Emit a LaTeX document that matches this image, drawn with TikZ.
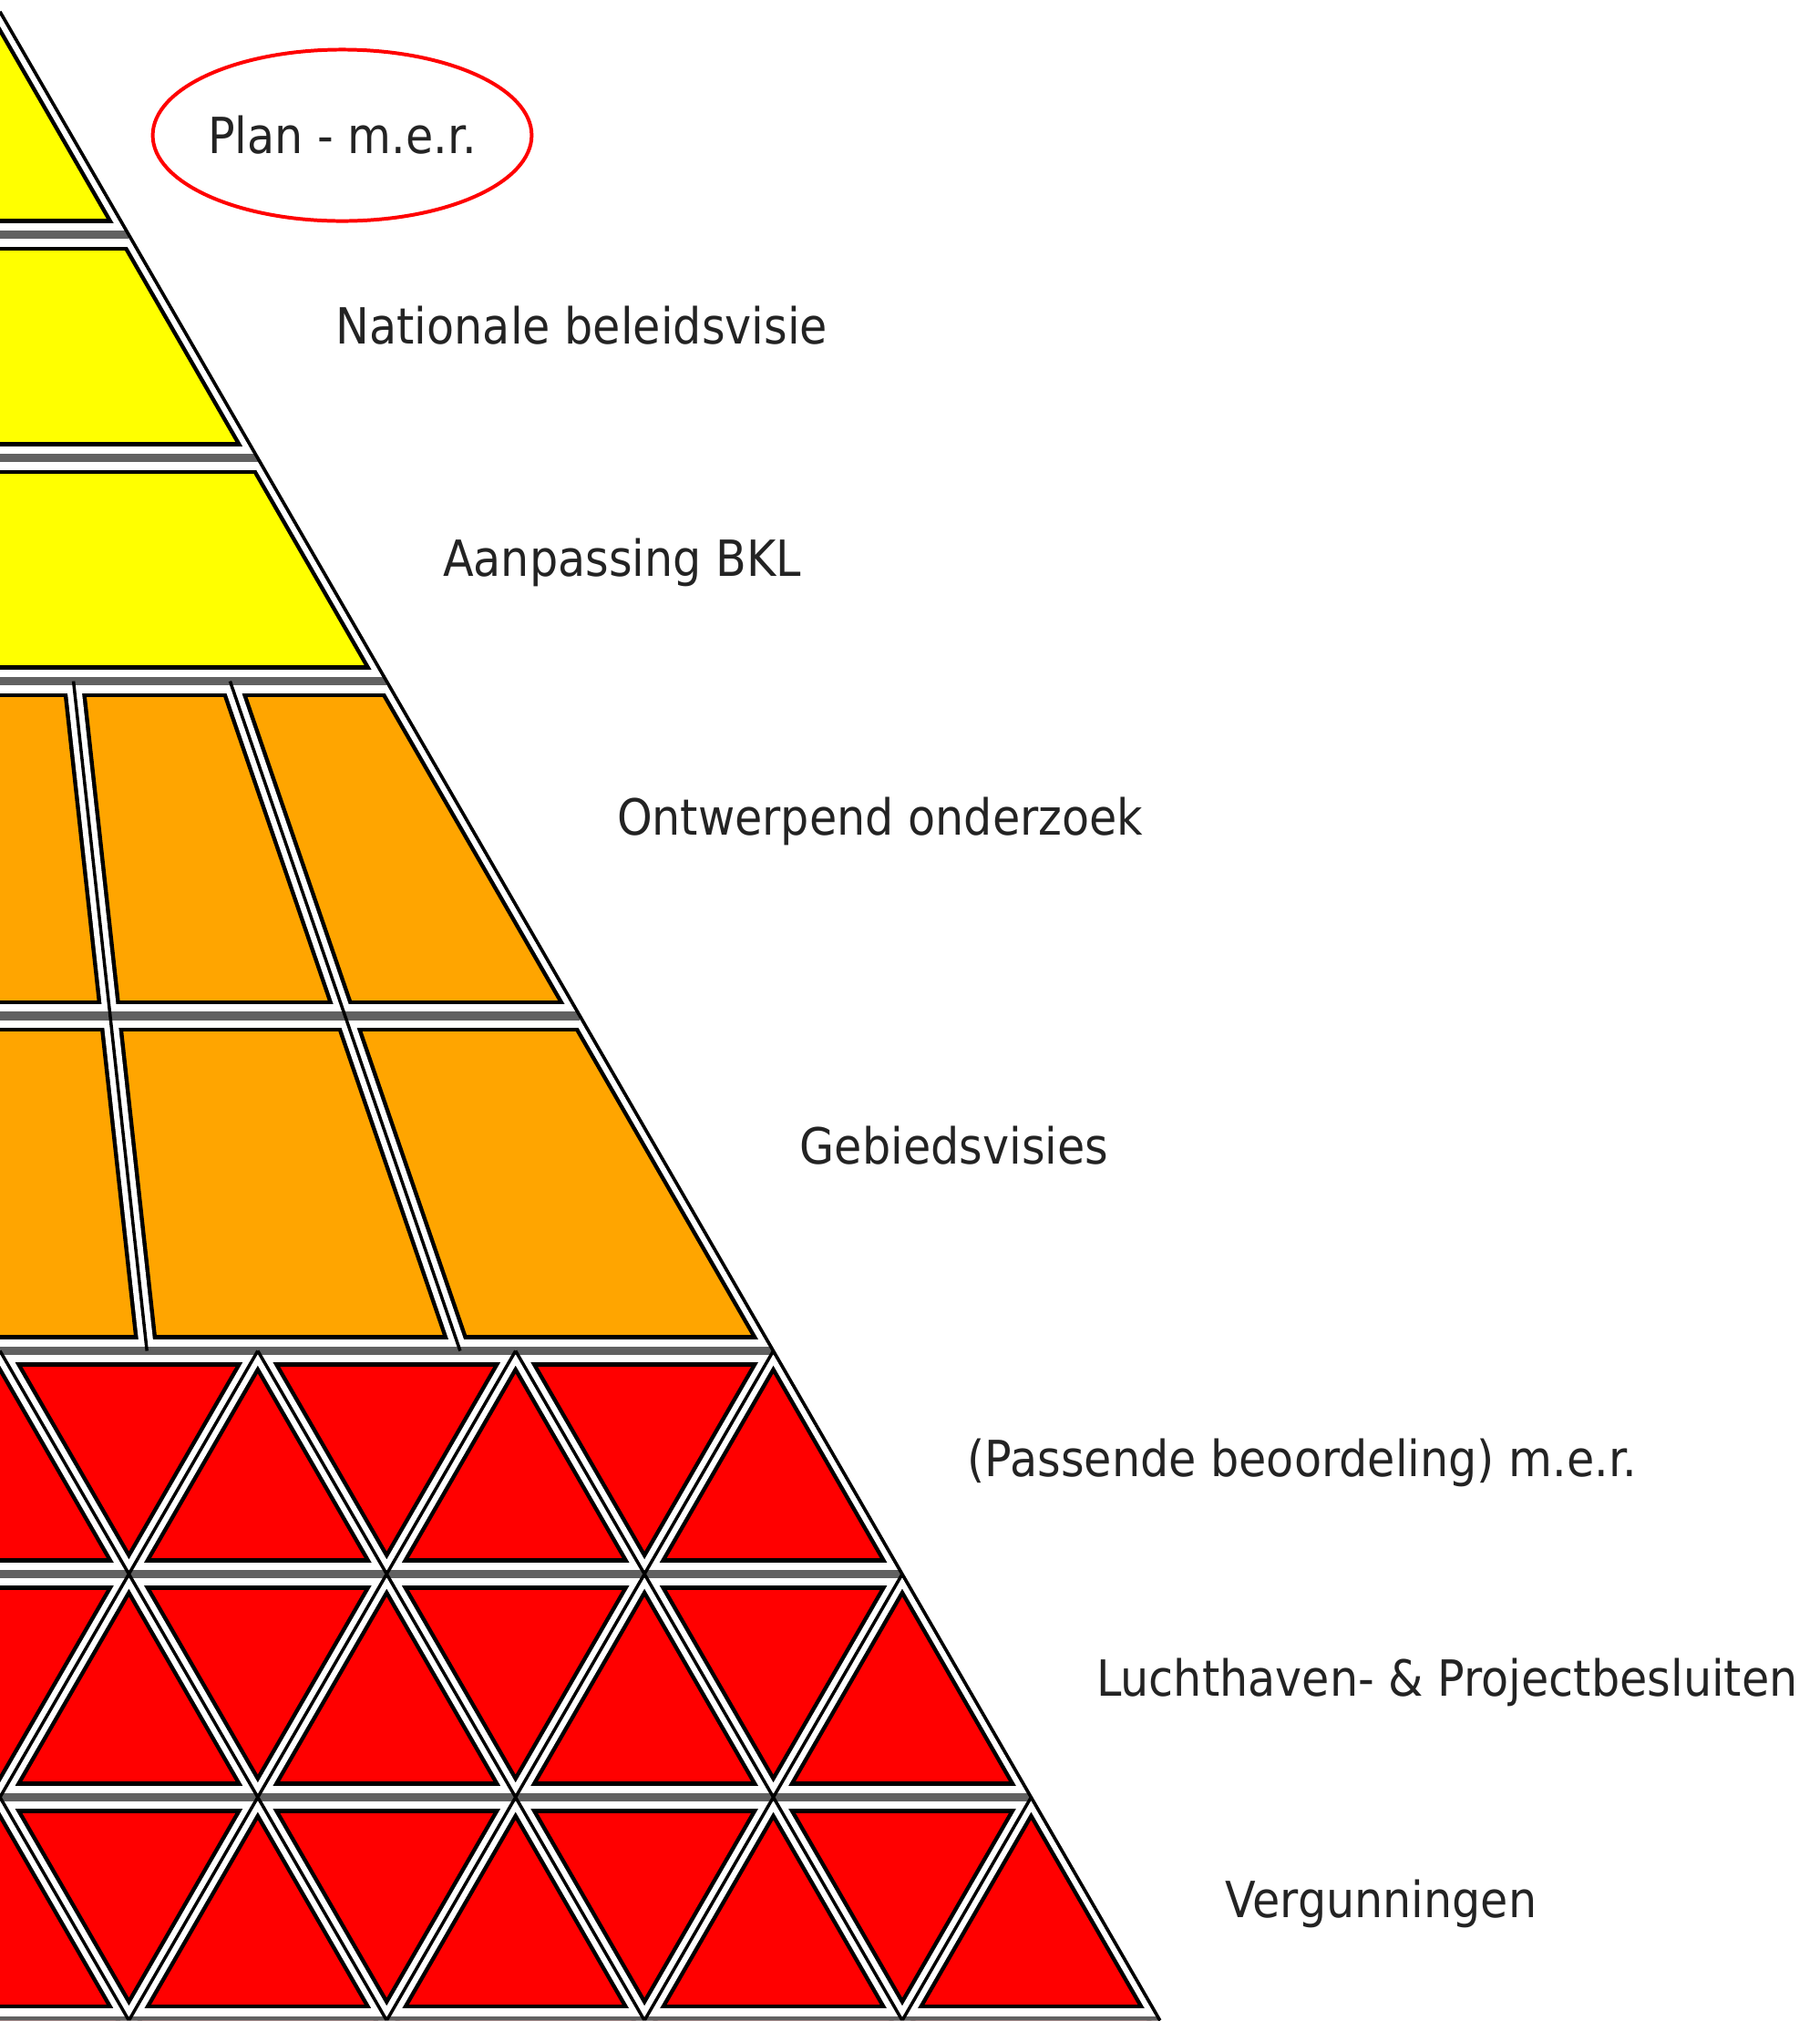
\documentclass[tikz,border=0pt]{standalone}
\usepackage{fontspec}
\setmainfont{DejaVu Sans}[FakeStretch=0.9]
\usetikzlibrary{calc}

\definecolor{lvlyel}{RGB}{255,255,0}
\definecolor{lvlora}{RGB}{255,165,0}
\definecolor{lvlred}{RGB}{255,0,0}
\definecolor{lbltxt}{RGB}{35,35,35}

\newcommand\hgrid{\foreach \i in {1,...,8}{(L\i)--(R\i)}}
\newcommand\dgrid{(A)--(R8)
  \foreach \fr in {0.19,0.595}{($(L3)!\fr!(R3)$)--($(L5)!\fr!(R5)$)}
  \foreach \k in {1,...,4}{($(L5)+({6-2*\k},0)$)--($(L8)+({9-2*\k},0)$)}
  \foreach \m in {3,...,8}{($(L5)+({2*\m-6},0)$)--($(L8)+({2*\m-9},0)$)}}

\begin{document}
\begin{tikzpicture}[
  lbl/.style={anchor=base west,inner sep=0pt,text=lbltxt,font=\fontsize{11}{13}\selectfont},
  merring/.style={draw=red,line width=0.8pt}]
\useasboundingbox (0,0) rectangle (14.12,-15.683);
\coordinate (A) at (0,-0.09);
\foreach \i/\h in {1/1,2/2,3/3,4/4.5,5/6,6/7,7/8,8/9}{
  \coordinate (L\i) at (0,{-0.09-1.7320508*\h});
  \coordinate (R\i) at (\h,{-0.09-1.7320508*\h});
}

\begin{scope}
  \clip (A)--(R8)--(L8)--cycle;
  \fill[lvlyel] (A)--(R3)--(L3)--cycle;
  \fill[lvlora] (L3)--(R3)--(R5)--(L5)--cycle;
  \fill[lvlred] (L5)--(R5)--(R8)--(L8)--cycle;
  \draw[line width=7pt] \hgrid;
  \draw[line width=5pt] \dgrid;
  \draw[white,line width=5.2pt] \hgrid;
  \draw[white,line width=3.2pt] \dgrid;
  \draw[black!62,line width=1.9pt] \hgrid;
  \draw[line width=0.7pt] \dgrid;
\end{scope}
\draw[line width=0.7pt] (A)--(R8);

\node[lbl,anchor=center] (plan)at(2.655,-1.05) {Plan - m.e.r.};
\draw[merring] (plan.center) ellipse [x radius=1.47,y radius=0.665];
\node[lbl] (nat)at(2.60,-2.67) {Nationale beleidsvisie};
\node[lbl] (bkl)at(3.43,-4.47) {Aanpassing BKL};
\node[lbl] (ontw)at(4.78,-6.48) {Ontwerpend onderzoek};
\node[lbl] (gebied)at(6.20,-9.03) {Gebiedsvisies};
\node[lbl] (pb)at(7.50,-11.46) {(Passende beoordeling) m.e.r.};
\node[lbl] (lucht)at(8.50,-13.16) {Luchthaven- \& Projectbesluiten};
\node[lbl] (verg)at(9.50,-14.88) {Vergunningen};
\end{tikzpicture}
\end{document}
